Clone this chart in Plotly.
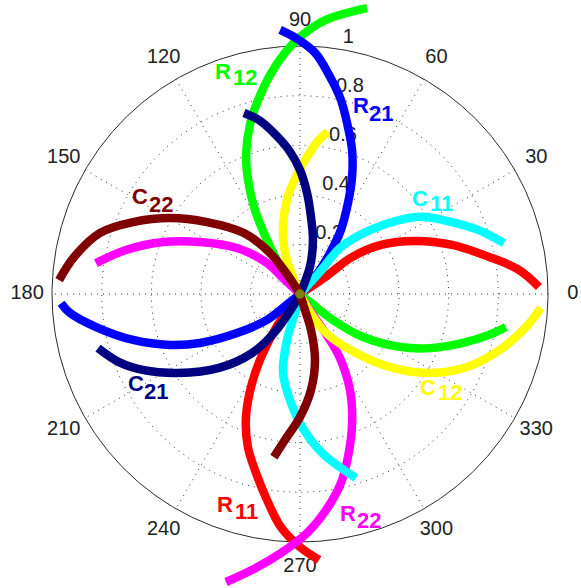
import numpy as np
import plotly.graph_objects as go

# ---------------- data: (theta in degrees, r) ----------------
# R11 (red)
red_a_theta = [34.0, 34.0, 35.4, 31.2, 24.7, 17.9, 11.1, 6.3, 1.7]
red_a_r     = [0.0, 0.125, 0.257, 0.382, 0.511, 0.644, 0.777, 0.888, 0.964]
red_b_theta = [233.0, 233.0, 234.5, 237.9, 241.7, 246.3, 251.2, 256.2, 260.9, 265.3, 270.0, 274.1]
red_b_r     = [0.0, 0.070, 0.160, 0.281, 0.408, 0.542, 0.652, 0.743, 0.841, 0.943, 1.020, 1.075]
# R12 (green)
green_a_theta = [126.0, 126.0, 121.4, 118.2, 114.5, 111.2, 106.5, 102.2, 97.8, 93.6, 90.0, 84.6, 76.8]
green_a_r     = [0.0, 0.120, 0.255, 0.384, 0.505, 0.601, 0.711, 0.800, 0.891, 0.974, 1.036, 1.110, 1.184]
green_b_theta = [320.7, 320.7, 321.8, 325.7, 332.1, 337.4, 343.3, 347.8, 350.9]
green_b_r     = [0.0, 0.057, 0.169, 0.308, 0.456, 0.568, 0.686, 0.780, 0.841]
# R21 (blue)
blue_a_theta = [48.6, 48.6, 53.8, 57.4, 62.2, 66.0, 70.1, 74.0, 78.1, 82.1, 86.4, 90.9, 94.3]
blue_a_r     = [0.0, 0.091, 0.205, 0.306, 0.415, 0.516, 0.617, 0.701, 0.800, 0.883, 0.974, 1.032, 1.068]
blue_b_theta = [219.3, 219.3, 218.2, 211.8, 206.1, 201.4, 195.4, 189.2, 184.7, 182.2]
blue_b_r     = [0.0, 0.057, 0.169, 0.299, 0.449, 0.563, 0.698, 0.833, 0.931, 0.964]
# R22 (magenta)
mag_a_theta = [137.0, 137.0, 136.8, 143.9, 152.5, 159.2, 165.8, 171.4]
mag_a_r     = [0.0, 0.083, 0.183, 0.315, 0.454, 0.591, 0.724, 0.832]
mag_b_theta = [300.0, 300.0, 303.0, 302.0, 297.5, 292.0, 286.4, 282.2, 276.9, 271.7, 265.8, 260.1, 255.6]
mag_b_r     = [0.0, 0.060, 0.179, 0.303, 0.436, 0.561, 0.685, 0.780, 0.877, 0.964, 1.047, 1.130, 1.199]
# C11 (cyan)
cyan_a_theta = [47.9, 47.9, 48.9, 42.4, 36.5, 32.3, 25.3, 19.8, 14.0]
cyan_a_r     = [0.0, 0.114, 0.252, 0.382, 0.502, 0.582, 0.678, 0.763, 0.848]
cyan_b_theta = [256.0, 256.0, 254.2, 257.9, 265.3, 271.7, 277.9, 286.9]
cyan_b_r     = [0.0, 0.066, 0.193, 0.326, 0.441, 0.549, 0.647, 0.775]
# C12 (yellow)
yel_a_theta = [112.4, 112.4, 110.1, 104.2, 97.9, 92.0, 87.1, 83.0, 80.2]
yel_a_r     = [0.0, 0.074, 0.176, 0.279, 0.383, 0.472, 0.553, 0.626, 0.663]
yel_b_theta = [298.3, 298.3, 303.7, 313.5, 321.5, 328.7, 336.4, 344.4, 351.7, 356.7]
yel_b_r     = [0.0, 0.060, 0.189, 0.328, 0.479, 0.613, 0.735, 0.837, 0.921, 0.973]
# C21 (navy)
navy_a_theta = [70.0, 70.0, 76.5, 81.9, 86.0, 90.0, 94.4, 99.2, 103.3, 107.2]
navy_a_r     = [0.0, 0.118, 0.224, 0.314, 0.408, 0.500, 0.582, 0.658, 0.721, 0.764]
navy_b_theta = [240.0, 240.0, 236.3, 230.9, 222.4, 212.9, 206.0, 200.6, 195.0]
navy_b_r     = [0.0, 0.070, 0.189, 0.307, 0.442, 0.586, 0.700, 0.780, 0.843]
# C22 (dark red)
brown_a_theta = [122.9, 122.9, 126.2, 132.6, 142.3, 149.7, 156.7, 163.0, 170.7, 176.7]
brown_a_r     = [0.0, 0.082, 0.205, 0.334, 0.474, 0.607, 0.733, 0.843, 0.923, 0.973]
brown_b_theta = [287.1, 287.1, 287.0, 282.8, 276.5, 270.0, 264.1, 260.9]
brown_b_r     = [0.0, 0.055, 0.152, 0.273, 0.390, 0.496, 0.592, 0.666]

angle_ticks = list(range(0, 360, 30))
radial_ticks = [0.2, 0.4, 0.6, 0.8, 1.0]
radial_tick_labels = ["0.2", "0.4", "0.6", "0.8", "1"]

series = [
    ("R11", "#FF0000", [(red_a_theta, red_a_r), (red_b_theta, red_b_r)]),
    ("R12", "#00FF00", [(green_a_theta, green_a_r), (green_b_theta, green_b_r)]),
    ("R21", "#0000FF", [(blue_a_theta, blue_a_r), (blue_b_theta, blue_b_r)]),
    ("R22", "#FF00FF", [(mag_a_theta, mag_a_r), (mag_b_theta, mag_b_r)]),
    ("C11", "#00FFFF", [(cyan_a_theta, cyan_a_r), (cyan_b_theta, cyan_b_r)]),
    ("C12", "#FFFF00", [(yel_a_theta, yel_a_r), (yel_b_theta, yel_b_r)]),
    ("C21", "#000080", [(navy_a_theta, navy_a_r), (navy_b_theta, navy_b_r)]),
    ("C22", "#800000", [(brown_a_theta, brown_a_r), (brown_b_theta, brown_b_r)]),
]


def to_xy(theta, r):
    t = np.radians(np.asarray(theta, dtype=float))
    rr = np.asarray(r, dtype=float)
    return rr * np.cos(t), rr * np.sin(t)


SCALE = 248.0          # pixels per unit radius
CX, CY = 300.0, 294.0  # centre in pixels
W, H = 581, 588


def pd(px, py):
    return (px - CX) / SCALE, (CY - py) / SCALE


fig = go.Figure()

GRID = "#333333"
TXT = "#222222"
FONT = "Liberation Sans, Arial, sans-serif"

# dotted rings
ring_t = np.linspace(0, 360, 721)
for rv in radial_ticks[:-1]:
    x, y = to_xy(ring_t, np.full_like(ring_t, rv))
    fig.add_trace(go.Scatter(x=x, y=y, mode="lines", hoverinfo="skip",
                             line=dict(color=GRID, width=1, dash="1px,5px")))
# dotted spokes
for a in angle_ticks[:6]:
    x, y = to_xy([a, a + 180], [1.0, 1.0])
    fig.add_trace(go.Scatter(x=x, y=y, mode="lines", hoverinfo="skip",
                             line=dict(color=GRID, width=1, dash="1px,5px")))
# outer circle
x, y = to_xy(ring_t, np.ones_like(ring_t))
fig.add_trace(go.Scatter(x=x, y=y, mode="lines", hoverinfo="skip",
                         line=dict(color="#2a2a2a", width=1)))

# angle labels (under the curves)
ax, ay = to_xy(angle_ticks, [1.1] * len(angle_ticks))
fig.add_trace(go.Scatter(x=ax, y=ay, mode="text", text=[str(a) for a in angle_ticks],
                         textposition="middle center", hoverinfo="skip",
                         textfont=dict(size=20, color=TXT, family=FONT)))
# radial labels along 82 degrees
rx, ry = to_xy([82] * len(radial_ticks), [v + 0.01 for v in radial_ticks])
fig.add_trace(go.Scatter(x=rx + 8.0 / SCALE, y=ry - 2.0 / SCALE, mode="text",
                         text=radial_tick_labels,
                         textposition="top right", hoverinfo="skip",
                         textfont=dict(size=20, color=TXT, family=FONT)))

# curves
for name, color, arcs in series:
    for th, rr in arcs:
        x, y = to_xy(th, rr)
        fig.add_trace(go.Scatter(x=x, y=y, mode="lines", name=name,
                                 line=dict(color=color, width=8.5, shape="spline"),
                                 hoverinfo="skip"))

# centre dot
fig.add_trace(go.Scatter(x=[0], y=[0], mode="markers",
                         marker=dict(color="#808000", size=9,
                                     line=dict(color="#6b6b00", width=1)),
                         hoverinfo="skip"))

annotations = []
# curve labels: (main letter, subscript, color, main centre px, sub centre px)
labels = [
    ("C", "22", "#800000", (139.5, 196), (160.5, 204.5)),
    ("R", "12", "#00FF00", (222.5, 71.5), (245.0, 77.5)),
    ("R", "21", "#0000FF", (360.5, 105.5), (380.5, 113.5)),
    ("C", "11", "#00FFFF", (420, 198.5), (441.0, 203.5)),
    ("C", "12", "#FFFF00", (427.5, 387.5), (449.5, 392.5)),
    ("C", "21", "#000080", (135.5, 383.5), (155.5, 391)),
    ("R", "11", "#FF0000", (225, 504.5), (246.5, 511)),
    ("R", "22", "#FF00FF", (347.5, 513.5), (368.5, 520)),
]
for main, sub, col, mp, sp in labels:
    mx, my = pd(*mp)
    sx, sy = pd(*sp)
    annotations.append(dict(x=mx, y=my, text="<b>%s</b>" % main, showarrow=False,
                            xanchor="center", yanchor="middle",
                            font=dict(size=22, color=col, family=FONT)))
    annotations.append(dict(x=sx, y=sy, text="<b>%s</b>" % sub, showarrow=False,
                            xanchor="center", yanchor="middle",
                            font=dict(size=22, color=col, family=FONT)))

fig.update_layout(
    width=W, height=H,
    margin=dict(l=0, r=0, t=0, b=0),
    paper_bgcolor="white", plot_bgcolor="white",
    showlegend=False,
    annotations=annotations,
    xaxis=dict(range=[(0 - CX) / SCALE, (W - CX) / SCALE], visible=False, fixedrange=True),
    yaxis=dict(range=[(CY - H) / SCALE, CY / SCALE], visible=False, fixedrange=True),
)

fig.write_html("out.html")
